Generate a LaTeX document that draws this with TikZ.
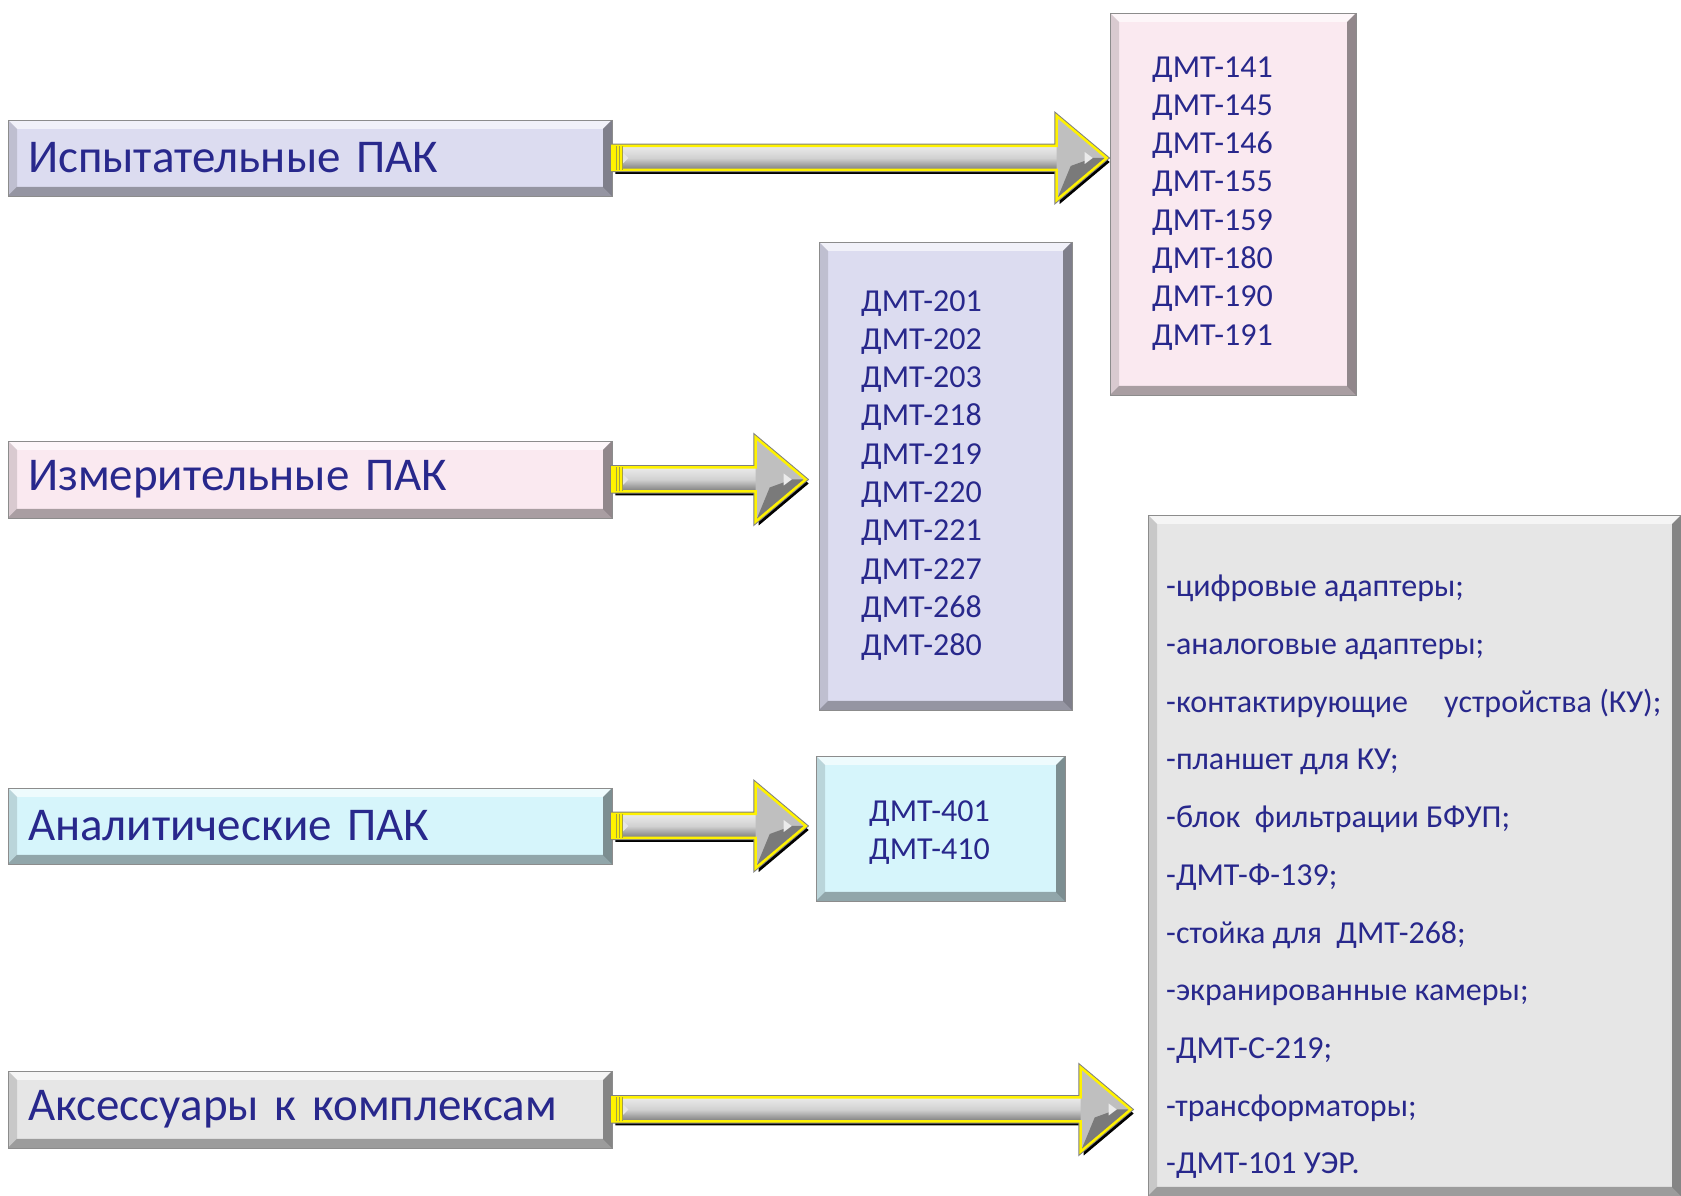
\documentclass[tikz,border=0pt]{standalone}
\usepackage{fontspec}
\setmainfont{Carlito}
\usetikzlibrary{calc}
\definecolor{txtblue}{RGB}{40,40,140}
\definecolor{cLav}{RGB}{220,220,240}
\definecolor{cPink}{RGB}{250,233,240}
\definecolor{cCyan}{RGB}{214,245,251}
\definecolor{cGray}{RGB}{230,230,230}
\tikzset{
  bevelbox/.style={rectangle, inner sep=0pt, fill=#1, draw=black!45, line width=0.6pt,
    path picture={
      \path (path picture bounding box.north west) coordinate (pnw)
            (path picture bounding box.north east) coordinate (pne)
            (path picture bounding box.south west) coordinate (psw)
            (path picture bounding box.south east) coordinate (pse);
      \fill[white,opacity=.6] (pnw) -- (pne) -- ($(pne)+(-9,-9)$) -- ($(pnw)+(9,-9)$) -- cycle;
      \fill[black,opacity=.13] (pnw) -- ($(pnw)+(9,-9)$) -- ($(psw)+(9,9)$) -- (psw) -- cycle;
      \fill[black,opacity=.42] (pne) -- ($(pne)+(-9,-9)$) -- ($(pse)+(-9,9)$) -- (pse) -- cycle;
      \fill[black,opacity=.32] (psw) -- ($(psw)+(9,9)$) -- ($(pse)+(-9,9)$) -- (pse) -- cycle;
    }},
  labelbox/.style={bevelbox=#1, minimum width=604pt, minimum height=76pt, inner xsep=20pt,
    text width=564pt, align=left, font=\fontsize{47}{57}\selectfont, text=txtblue},
  listtext/.style={inner sep=0pt, anchor=west, align=left, text=txtblue,
    font=\fontsize{32}{38.3}\selectfont},
  graytext/.style={inner sep=0pt, anchor=west, align=left, text=txtblue,
    font=\fontsize{32}{57.7}\selectfont},
}
\newcommand\arrpoly[2]{($(aS)+(#1,12+#2)$) -- ($(aH)+(#1,12+#2)$) -- ($(aH)+(#1,42+#2)$) -- ($(aT)+(#1,#2)$) -- ($(aH)+(#1,-42+#2)$) -- ($(aH)+(#1,-12+#2)$) -- ($(aS)+(#1,-12+#2)$) -- cycle}
\newcommand\fatarrow[2]{%
  \path (#1) coordinate (aS) (#2) coordinate (aT);
  \path ($(aT)+(-50,0)$) coordinate (aH);
  \fill[black] \arrpoly{3}{-4};
  \draw[black!50, line width=4.5pt, line join=miter] \arrpoly{0}{0};
  \shade[top color=black!8, bottom color=black!52, middle color=black!18]
    ($(aS)+(0,-12)$) rectangle ($(aH)+(14,12)$);
  \fill[black!25] ($(aH)+(0,42)$) -- (aT) -- ($(aH)+(0,-42)$) -- cycle;
  \fill[black!52] (aT) -- ($(aH)+(0,-42)$) -- ($(aH)+(14,-8)$) -- ($(aT)+(-14,0)$) -- cycle;
  \fill[black!8] ($(aT)+(-14,0)$) -- ($(aT)+(-22,6)$) -- ($(aT)+(-22,-6)$) -- cycle;
  \fill[black!10] ($(aS)+(4,12)$) -- ($(aS)+(16,0)$) -- ($(aS)+(4,-12)$) -- cycle;
  \draw[yellow, line width=2.5pt, line join=miter] \arrpoly{0}{0};
  \fill[yellow] ($(aS)+(0,-12)$) rectangle ($(aS)+(10,12)$);
  \draw[yellow!60!black, line width=0.8pt] ($(aS)+(4,-12)$) -- ($(aS)+(4,12)$)
    ($(aS)+(7,-12)$) -- ($(aS)+(7,12)$) ($(aS)+(10,-12)$) -- ($(aS)+(10,12)$);
}
\begin{document}
\begin{tikzpicture}[x=1pt,y=1pt]
\useasboundingbox (0,0) rectangle (1681,1196);
\fill[white] (0,0) rectangle (1681,1196);

% left category boxes
\node[labelbox=cLav] (b1) at (310,1038) {Испытательные ПАК};
\node[labelbox=cPink, minimum height=77pt] (b2) at (310,716.5) {Измерительные ПАК};
\node[labelbox=cCyan] (b3) at (310,370) {Аналитические ПАК};
\node[labelbox=cGray, minimum height=77pt] (b4) at (310,86.5) {Аксессуары к комплексам};

% target boxes
\node[bevelbox=cPink, minimum width=246pt, minimum height=382pt] (t1) at (1233,992) {};
\node[bevelbox=cLav, minimum width=253pt, minimum height=468pt] (t2) at (945.5,720) {};
\node[bevelbox=cCyan, minimum width=249pt, minimum height=145pt] (t3) at (940.5,367.5) {};
\node[bevelbox=cGray, minimum width=533pt, minimum height=681pt] (t4) at (1414.5,340.5) {};

% texts
\node[listtext] (l1) at (1152,992.7) {ДМТ-141\\ДМТ-145\\ДМТ-146\\ДМТ-155\\ДМТ-159\\ДМТ-180\\ДМТ-190\\ДМТ-191};
\node[listtext] (l2) at (861,720.5) {ДМТ-201\\ДМТ-202\\ДМТ-203\\ДМТ-218\\ДМТ-219\\ДМТ-220\\ДМТ-221\\ДМТ-227\\ДМТ-268\\ДМТ-280};
\node[listtext] (l3) at (869,363.5) {ДМТ-401\\ДМТ-410};
\node[graytext] (l4) at (1166,319) {-цифровые адаптеры;\\-аналоговые адаптеры;\\-контактирующие\ \ \ \ \ устройства (КУ);\\-планшет для КУ;\\-блок\ \ фильтрации БФУП;\\-ДМТ-Ф-139;\\-стойка для\ \ ДМТ-268;\\-экранированные камеры;\\-ДМТ-С-219;\\-трансформаторы;\\-ДМТ-101 УЭР.};

% arrows
\coordinate (e1) at ($(b1.east -| t1.west)+(-3,0)$);
\coordinate (e2) at ($(b2.east -| t2.west)+(-13,0)$);
\coordinate (e3) at ($(b3.east -| t3.west)+(-10,0)$);
\coordinate (e4) at ($(b4.east -| t4.west)+(-17,0)$);
\fatarrow{b1.east}{e1}
\fatarrow{b2.east}{e2}
\fatarrow{b3.east}{e3}
\fatarrow{b4.east}{e4}
\end{tikzpicture}
\end{document}
